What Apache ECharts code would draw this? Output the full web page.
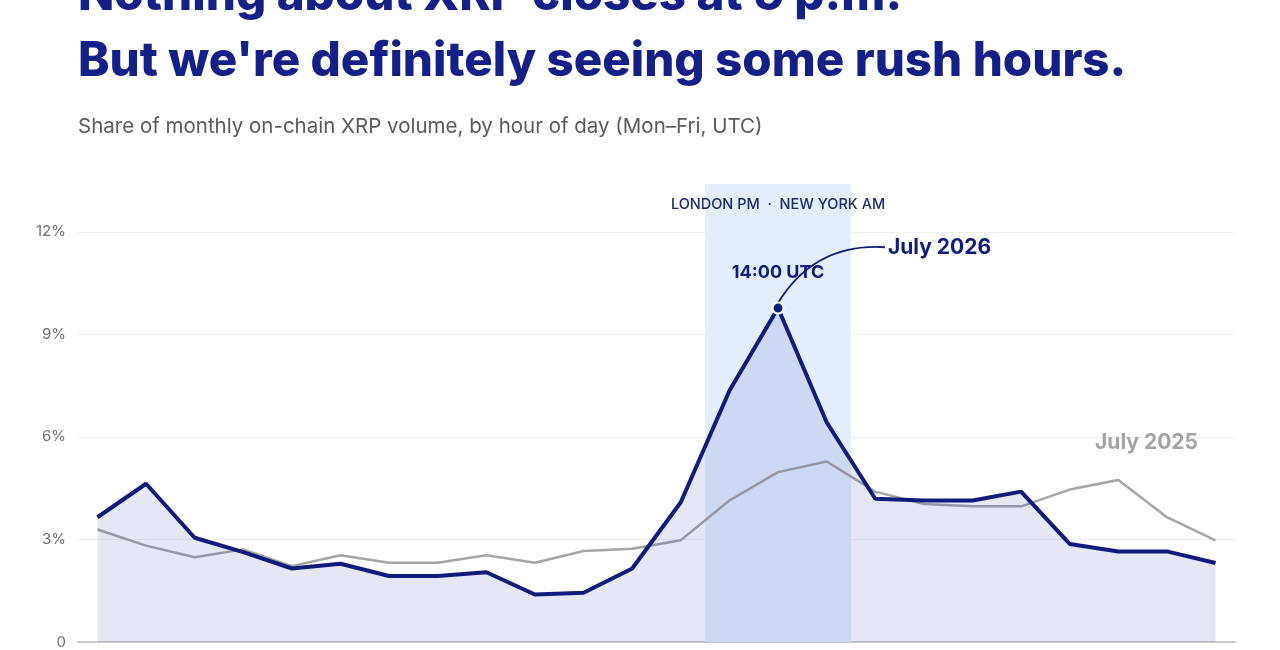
<!DOCTYPE html>
<html>
<head>
<meta charset="utf-8">
<script src="https://cdn.jsdelivr.net/npm/echarts@6/dist/echarts.min.js"></script>
<style>
  html, body { margin: 0; padding: 0; background: #fff; }
  #chart { width: 1280px; height: 650px; }
</style>
</head>
<body>
<div id="chart"></div>
<script>
// hour of day (UTC), Mon-Fri
var hours = [0, 1, 2, 3, 4, 5, 6, 7, 8, 9, 10, 11, 12, 13, 14, 15, 16, 17, 18, 19, 20, 21, 22, 23];
// share of monthly on-chain XRP volume, %
var july2026 = [3.65, 4.63, 3.05, 2.63, 2.15, 2.29, 1.93, 1.93, 2.04, 1.39, 1.44, 2.15,
                4.09, 7.35, 9.77, 6.43, 4.19, 4.14, 4.14, 4.40, 2.87, 2.65, 2.65, 2.31];
var july2025 = [3.29, 2.82, 2.48, 2.71, 2.22, 2.54, 2.32, 2.32, 2.54, 2.32, 2.66, 2.73,
                2.98, 4.14, 4.97, 5.28, 4.40, 4.04, 3.97, 3.97, 4.46, 4.74, 3.65, 2.97];
var yTicks = [0, 3, 6, 9, 12];
var band = [12.5, 15.5];   // London PM / New York AM overlap
var peakHour = 14;

var navy = '#0f1b7d';
var grey = '#a5a5a5';

function pairs(ys) {
  return hours.map(function (h, i) { return [h, ys[i]]; });
}

var chart = echarts.init(document.getElementById('chart'));

var option = {
  animation: false,
  textStyle: { fontFamily: 'Inter, sans-serif' },
  title: [
    {
      text: "Nothing about XRP closes at 5 p.m.\nBut we're definitely seeing some rush hours.",
      left: 73,
      top: -42,
      textStyle: { fontFamily: 'Inter', fontWeight: 800, fontSize: 47.5, lineHeight: 66, color: '#132087' }
    },
    {
      text: 'Share of monthly on-chain XRP volume, by hour of day (Mon\u2013Fri, UTC)',
      left: 73,
      top: 111,
      textStyle: { fontFamily: 'Inter', fontWeight: 400, fontSize: 20.5, color: '#5a5a5a' }
    }
  ],
  grid: { left: 78, right: 45, top: 184, bottom: 8 },
  xAxis: {
    type: 'value',
    min: -0.4,
    max: 23.4,
    axisLabel: { show: false },
    axisTick: { show: false },
    splitLine: { show: false },
    axisLine: { show: true, lineStyle: { color: '#c9c9c9', width: 2 } }
  },
  yAxis: {
    type: 'value',
    min: yTicks[0],
    max: 13.4,
    interval: 3,
    axisLine: { show: false },
    axisTick: { show: false },
    axisLabel: {
      showMaxLabel: false,
      margin: 12,
      color: '#6f6f6f',
      fontSize: 15,
      formatter: function (v) { return v === 0 ? '0' : v + '%'; }
    },
    splitLine: { showMaxLine: false, lineStyle: { color: '#efefef', width: 1 } }
  },
  series: [
    {
      // shaded session overlap
      type: 'line',
      data: [],
      z: 1,
      markArea: {
        silent: true,
        itemStyle: { color: '#e3eefc' },
        label: {
          show: true,
          position: 'insideTop',
          distance: 13,
          color: '#1d2a6b',
          fontSize: 14.5,
          fontWeight: 500,
          formatter: 'LONDON PM  \u00b7  NEW YORK AM'
        },
        data: [[{ xAxis: band[0] }, { xAxis: band[1] }]]
      }
    },
    {
      name: 'July 2025',
      type: 'line',
      z: 2,
      data: pairs(july2025),
      showSymbol: false,
      lineStyle: { color: grey, width: 2.5 },
      itemStyle: { color: grey },
      markPoint: {
        silent: true,
        symbolSize: 0,
        label: {
          show: true,
          position: 'inside',
          color: '#a3a3a3',
          fontSize: 21,
          fontWeight: 700,
          formatter: 'July 2025'
        },
        data: [{ coord: [21.58, 5.82] }]
      }
    },
    {
      name: 'July 2026',
      type: 'line',
      z: 3,
      data: pairs(july2026),
      showSymbol: false,
      lineStyle: { color: navy, width: 4 },
      itemStyle: { color: navy },
      areaStyle: { color: 'rgba(40,50,170,0.17)' },
      markPoint: {
        silent: true,
        data: [
          {
            coord: [peakHour, july2026[peakHour]],
            symbol: 'circle',
            symbolSize: 11,
            itemStyle: { color: navy, borderColor: '#fff', borderWidth: 2 },
            label: { show: false }
          },
          {
            coord: [peakHour, 10.8],
            symbolSize: 0,
            label: { show: true, position: 'inside', color: navy, fontSize: 18, fontWeight: 700, formatter: '14:00 UTC' }
          },
          {
            coord: [16.22, 11.55],
            symbolSize: 0,
            label: { show: true, position: 'right', distance: 2, color: navy, fontSize: 21, fontWeight: 700, formatter: 'July 2026' }
          }
        ]
      }
    },
    {
      // connector from the peak to the series label
      type: 'lines',
      coordinateSystem: 'cartesian2d',
      z: 4,
      silent: true,
      lineStyle: { color: navy, width: 1.8, curveness: 0.3, opacity: 1 },
      data: [{ coords: [[peakHour, july2026[peakHour] + 0.15], [16.2, 11.55]] }]
    }
  ]
};

chart.setOption(option);
</script>
</body>
</html>
